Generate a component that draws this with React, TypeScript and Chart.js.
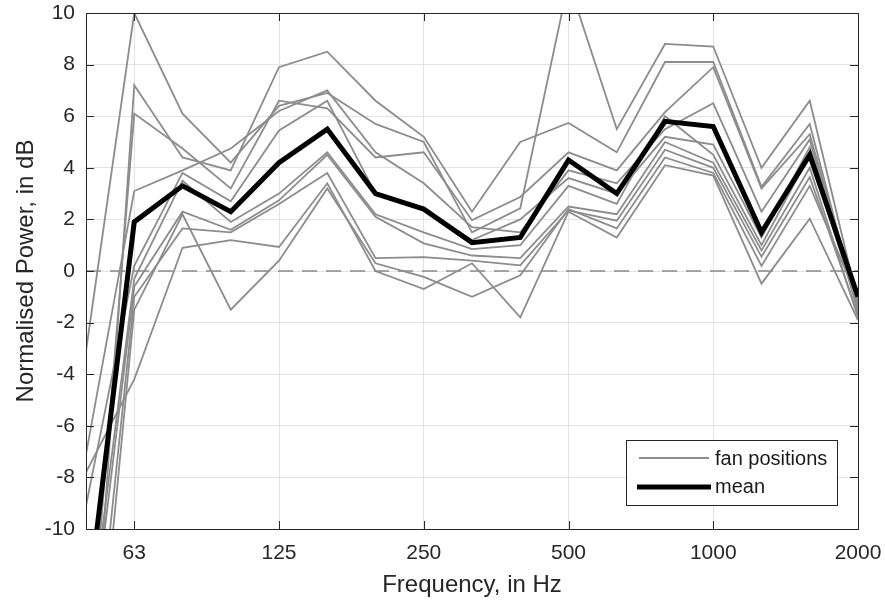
import React, { useEffect, useRef } from "react";
import { Chart, registerables } from "chart.js";

Chart.register(...registerables);

// Third-octave band centre frequencies (Hz)
const FREQ_BANDS = [50, 63, 80, 100, 125, 160, 200, 250, 315, 400, 500, 630, 800, 1000, 1250, 1600, 2000];
const TICK_LABELS = ["63", "125", "250", "500", "1000", "2000"];

const MEAN = [-13.5, 1.9, 3.3, 2.3, 4.2, 5.5, 3.0, 2.4, 1.1, 1.3, 4.3, 3.0, 5.8, 5.6, 1.5, 4.5, -1.0];

const FAN_1 = [-3.1, 10.0, 6.1, 4.2, 6.4, 6.9, 5.7, 5.0, 1.5, 2.43, 11.2, 5.5, 8.8, 8.7, 4.0, 6.6, -1.2];
const FAN_2 = [-20, 7.2, 4.4, 3.9, 7.9, 8.5, 6.6, 5.2, 2.3, 5.0, 5.74, 4.6, 8.1, 8.1, 3.26, 5.7, -1.5];
const FAN_3 = [-17, 6.1, 4.75, 3.2, 6.6, 6.3, 4.4, 4.6, 1.97, 2.87, 4.6, 3.9, 6.16, 7.9, 3.2, 5.3, -1.3];
const FAN_4 = [-7.1, 3.1, 3.9, 4.75, 6.2, 7.0, 4.6, 3.4, 1.7, 1.5, 3.9, 3.4, 5.5, 6.5, 2.3, 5.1, -1.6];
const FAN_5 = [-9.1, 0.2, 3.8, 2.7, 5.45, 6.6, 3.0, 2.4, 1.2, 2.0, 3.6, 3.0, 5.2, 4.9, 1.3, 4.8, -1.0];
const FAN_6 = [-15, -0.3, 3.5, 1.9, 3.0, 4.6, 2.2, 1.5, 0.85, 1.0, 3.3, 2.6, 6.0, 4.5, 1.0, 4.5, -1.4];
const FAN_7 = [-16, -0.6, 2.3, 1.6, 2.74, 4.5, 2.1, 1.07, 0.6, 0.5, 2.5, 2.2, 5.0, 4.2, 0.8, 4.0, -1.8];
const FAN_8 = [-19, -1.0, 1.65, 1.5, 2.6, 3.8, 0.5, 0.54, 0.4, 0.22, 2.35, 1.95, 4.7, 4.0, 0.55, 3.64, -1.7];
const FAN_9 = [-21, -1.5, 2.2, -1.5, 0.4, 3.2, 0.3, -0.23, -1.0, -0.17, 2.4, 1.65, 4.4, 3.8, 0.2, 3.3, -1.1];
const FAN_10 = [-7.8, -4.2, 0.9, 1.2, 0.93, 3.4, 0.0, -0.7, 0.3, -1.8, 2.3, 1.3, 4.1, 3.7, -0.49, 2.03, -1.9];

const FANS = [FAN_1, FAN_2, FAN_3, FAN_4, FAN_5, FAN_6, FAN_7, FAN_8, FAN_9, FAN_10];

const Y_MIN = -10;
const Y_MAX = 10;
const Y_STEP = 2;

const X_TITLE = "Frequency, in Hz";
const Y_TITLE = "Normalised Power, in dB";
const LEGEND_FAN = "fan positions";
const LEGEND_MEAN = "mean";

const FONT = "'Liberation Sans', Arial, Helvetica, sans-serif";
const AXIS_COLOR = "#262626";
const FAN_COLOR = "#8c8c8c";

const toPoints = (arr: number[]) => arr.map((y, i) => ({ x: i, y }));
const tickIndex = (label: string) => FREQ_BANDS.indexOf(Number(label));

const clearPadding = (scale: any) => {
  scale.paddingTop = 0;
  scale.paddingBottom = 0;
  scale.paddingLeft = 0;
  scale.paddingRight = 0;
};

const decorPlugin = {
  id: "decor",
  beforeDatasetsDraw(chart: any) {
    const { ctx, chartArea } = chart;
    const y0 = chart.scales.y.getPixelForValue(0);
    ctx.save();
    ctx.strokeStyle = "#8a8a8a";
    ctx.lineWidth = 1.6;
    ctx.setLineDash([15, 9]);
    ctx.beginPath();
    ctx.moveTo(chartArea.left, y0);
    ctx.lineTo(chartArea.right, y0);
    ctx.stroke();
    ctx.restore();
  },
  afterDatasetsDraw(chart: any) {
    const { ctx, chartArea } = chart;
    const { left, right, top, bottom } = chartArea;
    const xs = chart.scales.x;
    const ys = chart.scales.y;
    ctx.save();
    ctx.strokeStyle = AXIS_COLOR;
    ctx.lineWidth = 1;
    ctx.setLineDash([]);
    ctx.strokeRect(Math.round(left) + 0.5, Math.round(top) + 0.5, Math.round(right - left), Math.round(bottom - top));
    const tl = 8;
    ctx.beginPath();
    TICK_LABELS.forEach((lab) => {
      const px = Math.round(xs.getPixelForValue(tickIndex(lab))) + 0.5;
      ctx.moveTo(px, bottom);
      ctx.lineTo(px, bottom - tl);
      ctx.moveTo(px, top);
      ctx.lineTo(px, top + tl);
    });
    for (let v = Y_MIN; v <= Y_MAX; v += Y_STEP) {
      const py = Math.round(ys.getPixelForValue(v)) + 0.5;
      ctx.moveTo(left, py);
      ctx.lineTo(left + tl, py);
      ctx.moveTo(right, py);
      ctx.lineTo(right - tl, py);
    }
    ctx.stroke();

    // Legend
    const lx = 626.5, ly = 440.5, lw = 211, lh = 65;
    ctx.fillStyle = "#ffffff";
    ctx.fillRect(lx, ly, lw, lh);
    ctx.strokeStyle = AXIS_COLOR;
    ctx.lineWidth = 1;
    ctx.strokeRect(lx, ly, lw, lh);
    ctx.strokeStyle = FAN_COLOR;
    ctx.lineWidth = 1.8;
    ctx.beginPath();
    ctx.moveTo(639, 458);
    ctx.lineTo(709, 458);
    ctx.stroke();
    ctx.strokeStyle = "#000000";
    ctx.lineWidth = 5;
    ctx.beginPath();
    ctx.moveTo(637, 487);
    ctx.lineTo(711, 487);
    ctx.stroke();
    ctx.fillStyle = "#1a1a1a";
    ctx.font = `20px ${FONT}`;
    ctx.textAlign = "left";
    ctx.textBaseline = "middle";
    ctx.fillText(LEGEND_FAN, 715, 459);
    ctx.fillText(LEGEND_MEAN, 715, 487);

    // Axis titles
    ctx.fillStyle = AXIS_COLOR;
    ctx.font = `24px ${FONT}`;
    ctx.textAlign = "center";
    ctx.textBaseline = "alphabetic";
    ctx.fillText(X_TITLE, (left + right) / 2, 592);
    ctx.translate(33, (top + bottom) / 2);
    ctx.rotate(-Math.PI / 2);
    ctx.fillText(Y_TITLE, 0, 0);
    ctx.restore();
  },
};

export default function App() {
  const canvasRef = useRef<HTMLCanvasElement | null>(null);

  useEffect(() => {
    if (!canvasRef.current) return;
    const datasets: any[] = [
      {
        label: LEGEND_MEAN,
        data: toPoints(MEAN),
        borderColor: "#000000",
        borderWidth: 5,
        pointRadius: 0,
        tension: 0,
        clip: 0,
        borderJoinStyle: "miter",
      },
      ...FANS.map((arr, i) => ({
        label: `${LEGEND_FAN} ${i + 1}`,
        data: toPoints(arr),
        borderColor: FAN_COLOR,
        borderWidth: 1.8,
        pointRadius: 0,
        tension: 0,
        clip: 0,
      })),
    ];

    const chart = new Chart(canvasRef.current, {
      type: "line",
      data: { datasets },
      plugins: [decorPlugin],
      options: {
        animation: false,
        responsive: false,
        devicePixelRatio: 1,
        parsing: false,
        layout: { padding: { top: 13, right: 27, left: 0, bottom: 0 } },
        plugins: { legend: { display: false }, tooltip: { enabled: false }, title: { display: false } },
        scales: {
          x: {
            type: "linear",
            min: 0,
            max: FREQ_BANDS.length - 1,
            afterBuildTicks: (scale: any) => {
              scale.ticks = TICK_LABELS.map((l) => ({ value: tickIndex(l) }));
            },
            afterFit: (scale: any) => {
              scale.height = 71;
              clearPadding(scale);
            },
            grid: { color: "#e3e3e3", lineWidth: 1, drawTicks: false },
            border: { display: false },
            ticks: {
              autoSkip: false,
              maxRotation: 0,
              padding: 12,
              color: AXIS_COLOR,
              font: { family: FONT, size: 21 },
              callback: (v: any) => String(FREQ_BANDS[Number(v)]),
            },
          },
          y: {
            type: "linear",
            min: Y_MIN,
            max: Y_MAX,
            afterFit: (scale: any) => {
              scale.width = 86;
              clearPadding(scale);
            },
            grid: { color: "#e3e3e3", lineWidth: 1, drawTicks: false },
            border: { display: false },
            ticks: {
              stepSize: Y_STEP,
              padding: 11,
              color: AXIS_COLOR,
              font: { family: FONT, size: 21 },
            },
          },
        },
      },
    });
    return () => chart.destroy();
  }, []);

  return (
    <div style={{ position: "fixed", left: 0, top: 0, width: 885, height: 600, background: "#ffffff" }}>
      <canvas ref={canvasRef} width={885} height={600} style={{ display: "block" }} />
    </div>
  );
}
